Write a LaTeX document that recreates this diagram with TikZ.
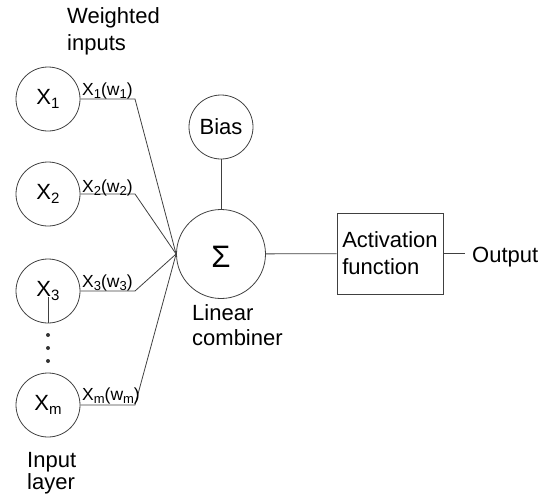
\documentclass[tikz,border=0pt]{standalone}
\usepackage{fontspec}
\setmainfont{Liberation Sans}
% lowered subscripts for the node and weight labels
\newcommand\insub[1]{\raisebox{-4.5pt}{\fontsize{15}{15}\selectfont #1}}
\newcommand\wsub[1]{\raisebox{-3.5pt}{\fontsize{13}{13}\selectfont #1}}
\tikzset{
  ln/.style={draw=black!75, line width=0.8pt},
  neuron/.style={circle, ln, minimum size=64pt, inner sep=0pt, font=\fontsize{22}{25}\selectfont},
  txt/.style={inner sep=0pt, anchor=base west, font=\fontsize{22}{26}\selectfont},
  wlab/.style={inner sep=0pt, anchor=base west, font=\fontsize{17.5}{20}\selectfont},
  dotmark/.style={circle, fill=black!80, minimum size=4pt, inner sep=0pt},
}
\begin{document}
\begin{tikzpicture}[x=1pt, y=-1pt]
\useasboundingbox (0,0) rectangle (540,499);

% input layer
\node[neuron] (x1) at (48,99)  {X\insub{1}};
\node[neuron] (x2) at (48,194) {X\insub{2}};
\node[neuron] (x3) at (48,291) {X\insub{3}};
\node[neuron] (xm) at (48,405) {X\insub{m}};
\node[dotmark] (d1) at (48,335) {};
\node[dotmark] (d2) at (48,348) {};
\node[dotmark] (d3) at (48,361) {};
\coordinate (x3tick) at (48,297);
\draw[ln] (x3tick) -- (x3.south);

% summing junction and bias
\node[neuron, minimum size=89pt] (sum) at (221,254) {};
\node[inner sep=0pt, font=\fontsize{31}{33}\selectfont] (sigma) at ([yshift=-3pt]sum.center) {Σ};
\node[neuron] (bias) at (221,127) {Bias};

% activation block and output
\node[ln, rectangle, minimum width=106pt, minimum height=81pt, inner sep=0pt,
      align=left, font=\fontsize{22}{27}\selectfont] (act) at (390,253.5) {Activation\\function};
\node[txt] (out) at (472,262) {Output};

% weighted input connectors
\coordinate (k1) at (135,99);
\coordinate (k2) at (135,194);
\coordinate (k3) at (135,291);
\coordinate (km) at (135,405);
\draw[ln] (x1) -- (k1) -- (sum.west);
\draw[ln] (x2) -- (k2) -- (sum.west);
\draw[ln] (x3) -- (k3) -- (sum.west);
\draw[ln] (xm) -- (km) -- (sum.west);
\draw[ln] (bias) -- (sum);
\draw[ln] (sum) -- (act);
\coordinate (oend) at (465,253.5);
\draw[ln] (act.east) -- (oend);

% weight labels
\node[wlab] (w1) at (82,95)  {X\wsub{1}(w\wsub{1})};
\node[wlab] (w2) at (82,192) {X\wsub{2}(w\wsub{2})};
\node[wlab] (w3) at (82,287) {X\wsub{3}(w\wsub{3})};
\node[wlab] (wm) at (82,400) {X\wsub{m}(w\wsub{m})};

% captions
\node[txt] (wt1) at (67,23)  {Weighted};
\node[txt] (wt2) at (67,50)  {inputs};
\node[txt] (lc1) at (192,320) {Linear};
\node[txt] (lc2) at (192,345) {combiner};
\node[txt] (il1) at (27,467) {Input};
\node[txt] (il2) at (27,489) {layer};
\end{tikzpicture}
\end{document}
